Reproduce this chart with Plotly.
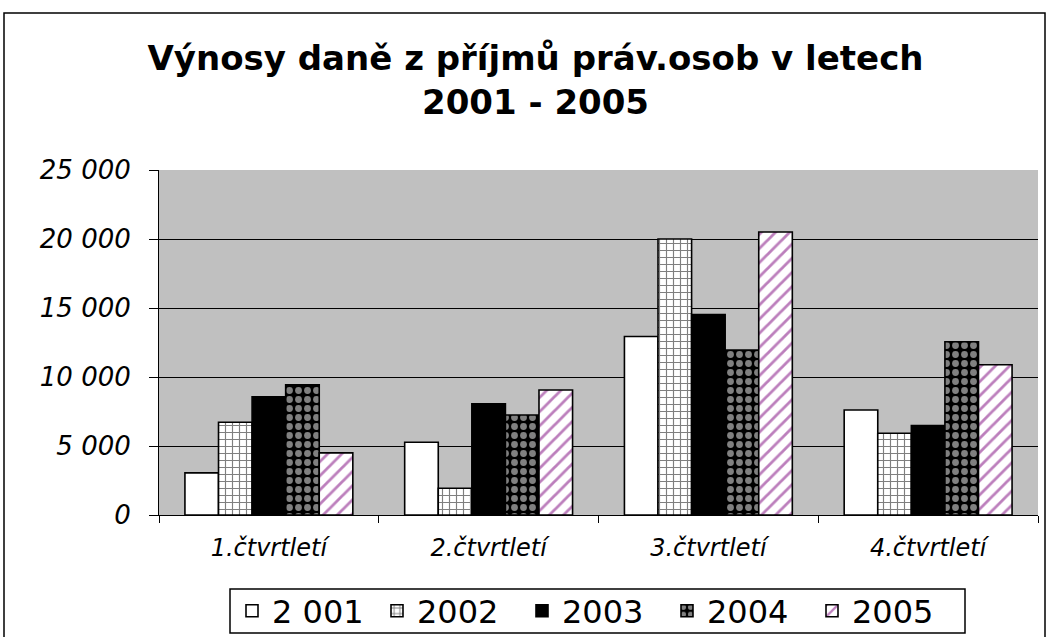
import plotly.graph_objects as go

categories = ["1.čtvrtletí", "2.čtvrtletí", "3.čtvrtletí", "4.čtvrtletí"]
series_names = ["2 001", "2002", "2003", "2004", "2005"]
s2001 = [3050, 5270, 12940, 7610]
s2002 = [6720, 1940, 20000, 5920]
s2003 = [8570, 8050, 14530, 6480]
s2004 = [9440, 7250, 11950, 12550]
s2005 = [4500, 9060, 20510, 10890]
y_ticks = [0, 5000, 10000, 15000, 20000, 25000]

values = [s2001, s2002, s2003, s2004, s2005]
styles = [
    dict(color="white", pattern=dict(shape="")),
    dict(color="white", pattern=dict(shape="+", fgcolor="black", bgcolor="white", size=7, solidity=0.3, fillmode="overlay")),
    dict(color="black", pattern=dict(shape="")),
    dict(color="black", pattern=dict(shape=".", fgcolor="white", bgcolor="black", size=9, solidity=0.45, fillmode="overlay")),
    dict(color="white", pattern=dict(shape="/", fgcolor="#7a007a", bgcolor="white", size=10, solidity=0.28, fillmode="overlay")),
]

FONT = "DejaVu Sans"
W, H = 1047, 637
L, R, T, B = 159, 1038, 170, 515


def px(x):
    return (x - L) / (R - L)


def py(y):
    return (B - y) / (B - T)


fig = go.Figure()
for name, vals, st in zip(series_names, values, styles):
    fig.add_trace(go.Bar(
        x=categories, y=vals, name=name,
        marker=dict(color=st["color"], pattern=st["pattern"],
                    line=dict(color="black", width=1.6)),
    ))

fig.update_layout(
    width=W, height=H,
    margin=dict(l=L, r=W - R, t=T, b=H - B, pad=0),
    paper_bgcolor="white",
    plot_bgcolor="#C0C0C0",
    barmode="group",
    bargap=0.236,
    bargroupgap=0,
    separators=", ",
    font=dict(family=FONT, color="black"),
    title=dict(
        text="Výnosy daně z příjmů práv.osob v letech<br>2001 - 2005",
        font=dict(family=FONT, size=34, weight="bold", color="black"),
        x=px(535.5), xref="paper", xanchor="center",
        y=1 - 70 / H, yref="container", yanchor="middle",
    ),
    xaxis=dict(
        showgrid=False, showline=True, linecolor="black", linewidth=1,
        ticks="outside", ticklen=7, tickcolor="black", tickson="boundaries",
        tickfont=dict(family=FONT, size=24, style="italic", color="black"),
        ticklabelstandoff=11, automargin=False,
    ),
    yaxis=dict(
        range=[0, 25000], tickvals=y_ticks, tickformat=",d",
        showgrid=True, gridcolor="black", gridwidth=1,
        showline=True, linecolor="black", linewidth=1,
        ticks="outside", ticklen=9, tickcolor="black",
        tickfont=dict(family=FONT, size=26, style="italic", color="black"),
        ticklabelstandoff=13, zeroline=False, automargin=False,
    ),
    legend=dict(
        orientation="h",
        xref="container", yref="container",
        x=232 / W, xanchor="left",
        y=1 - 611 / H, yanchor="middle",
        borderwidth=0, bgcolor="rgba(0,0,0,0)",
        font=dict(family=FONT, size=32, color="black"),
        entrywidth=100, entrywidthmode="pixels",
        traceorder="normal",
    ),
    shapes=[
        dict(type="rect", xref="paper", yref="paper",
             x0=px(4), x1=px(1045), y0=py(680), y1=py(13),
             line=dict(color="black", width=1.5), fillcolor="rgba(0,0,0,0)",
             layer="below"),
        dict(type="rect", xref="paper", yref="paper",
             x0=px(230), x1=px(965), y0=py(633), y1=py(589),
             line=dict(color="black", width=1.5), fillcolor="rgba(0,0,0,0)",
             layer="above"),
    ],
)

fig.write_html("out.html", config={"displayModeBar": False},
               post_script="document.body.style.margin='0';document.body.style.padding='0';")
